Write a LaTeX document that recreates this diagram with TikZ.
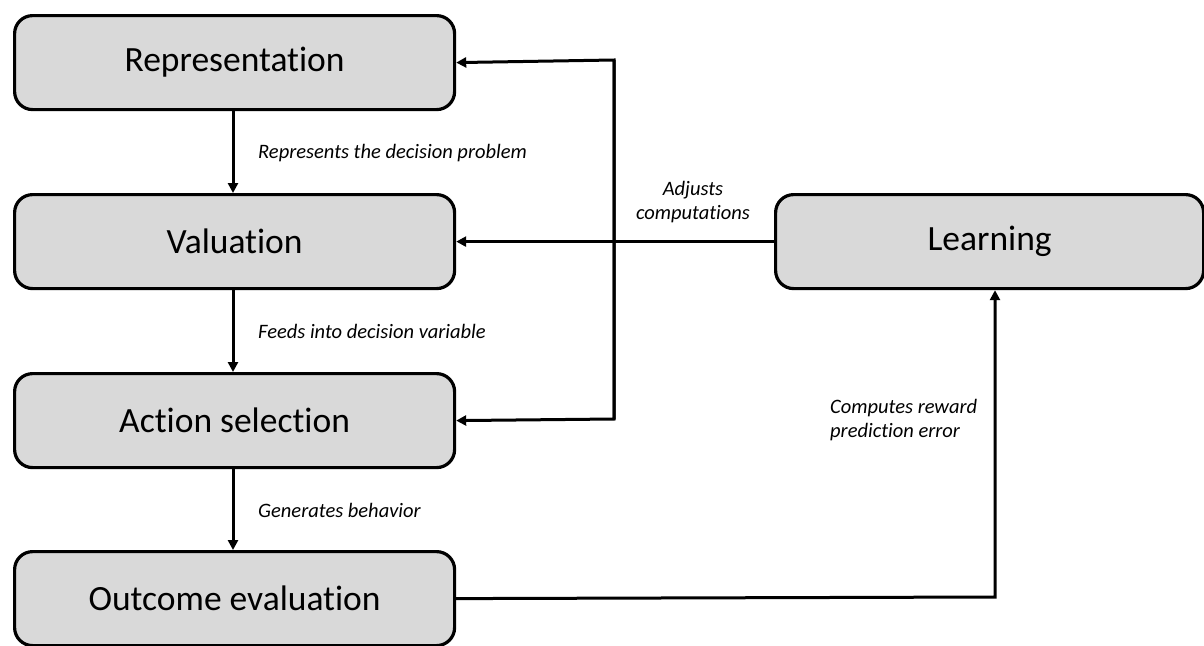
\documentclass[tikz,border=0pt]{standalone}
\usepackage{fontspec}
\setmainfont{Carlito}[RawFeature={-liga;-calt;-clig;-dlig}]
\usetikzlibrary{arrows.meta}
\definecolor{boxgray}{HTML}{D9D9D9}
\tikzset{
  stagebox/.style={draw=black, fill=boxgray, line width=3.2pt, rounded corners=18pt,
    minimum height=94pt, inner sep=0pt, font=\fontsize{35.5}{40}\selectfont, anchor=north west},
  flow/.style={line width=3pt, -{Triangle[length=10pt,width=10pt]}},
  lbl/.style={font=\itshape\fontsize{20.5}{24.5}\selectfont, inner sep=0pt}
}
\begin{document}
\begin{tikzpicture}[x=1pt,y=-1pt]
\useasboundingbox (0,0) rectangle (1204,645);
\node[stagebox, minimum width=440pt] (rep) at (13,14) {Representation};
\node[stagebox, minimum width=440pt] (val) at (13,193) {Valuation};
\node[stagebox, minimum width=440pt] (act) at (13,372) {Action selection};
\node[stagebox, minimum width=440pt] (out) at (13,550) {Outcome evaluation};
\node[stagebox, minimum width=428pt] (learn) at (774,193) {Learning};

\coordinate (vtop) at (614,60);
\coordinate (vbot) at (614,419);
\coordinate (corner) at (995,597);

\draw[flow] (rep.south -| 233,0) -- (val.north -| 233,0);
\draw[flow] (val.south -| 233,0) -- (act.north -| 233,0);
\draw[flow] (act.south -| 233,0) -- (out.north -| 233,0);

\draw[flow] (learn.west) -- (val.east);
\draw[flow] (vbot) -- (vtop) -- (rep.east);
\draw[flow] (vtop) -- (vbot) -- (act.east);
\draw[flow] (out.east) -- (corner) -- (learn.south -| corner);

\node[lbl, anchor=west] (l1) at (258,153) {Represents the decision problem};
\node[lbl, anchor=west] (l2) at (258,331) {Feeds into decision variable};
\node[lbl, anchor=west] (l3) at (258,510) {Generates behavior};
\node[lbl, align=center] (l4) at (693,202) {Adjusts\\computations};
\node[lbl, align=left, anchor=west] (l5) at (830,420) {Computes reward\\prediction error};
\end{tikzpicture}
\end{document}
